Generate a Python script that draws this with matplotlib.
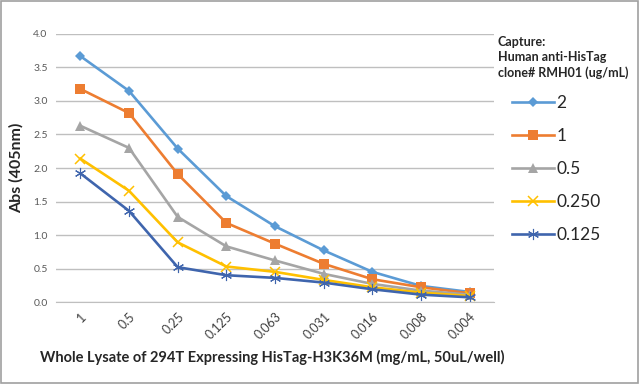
import matplotlib
matplotlib.use("Agg")
import matplotlib.pyplot as plt
from matplotlib.patches import Rectangle
from matplotlib.transforms import ScaledTranslation

plt.rcParams["font.family"] = ["Lato", "DejaVu Sans"]

lysate = ["1", "0.5", "0.25", "0.125", "0.063", "0.031", "0.016", "0.008", "0.004"]
capture = ["2", "1", "0.5", "0.250", "0.125"]
abs_2 = [3.67, 3.15, 2.29, 1.58, 1.13, 0.77, 0.45, 0.24, 0.15]
abs_1 = [3.18, 2.82, 1.91, 1.18, 0.87, 0.57, 0.34, 0.22, 0.13]
abs_05 = [2.63, 2.30, 1.27, 0.83, 0.62, 0.42, 0.27, 0.17, 0.11]
abs_0250 = [2.14, 1.66, 0.89, 0.53, 0.45, 0.33, 0.22, 0.14, 0.09]
abs_0125 = [1.92, 1.36, 0.52, 0.40, 0.36, 0.29, 0.19, 0.11, 0.07]

series = [abs_2, abs_1, abs_05, abs_0250, abs_0125]
colors = ["#5B9BD5", "#ED7D31", "#A5A5A5", "#FFC000", "#3F65AD"]
markers = ["D", "s", "^", "x", (6, 2, 0)]
msizes = [5, 6.5, 6.5, 7, 8]
mews = [0, 0, 0, 1.1, 0.8]

fig = plt.figure(figsize=(6.4, 3.84), dpi=100)
ax = fig.add_axes([0.0875, 0.2135, 0.6845, 0.698])

x = range(len(lysate))
for vals, lab, c, m, ms, mw in zip(series, capture, colors, markers, msizes, mews):
    ax.plot(x, vals, color=c, lw=1.9, marker=m, ms=ms, mew=mw, mec=c, mfc=c, label=lab)

ax.set_xlim(-0.5, len(lysate) - 0.5)
ax.set_ylim(0, 4.0)
ax.set_yticks([0, 0.5, 1.0, 1.5, 2.0, 2.5, 3.0, 3.5, 4.0])
ax.set_yticklabels([f"{v:.1f}" for v in ax.get_yticks()], fontsize=7.5, color="#595959")
ax.set_xticks(list(x))
ax.set_xticklabels(lysate, fontsize=9, color="#404040", rotation=45,
                   ha="right", rotation_mode="anchor")
off = ScaledTranslation(9 / 100, -5 / 100, fig.dpi_scale_trans)
for t in ax.get_xticklabels():
    t.set_transform(t.get_transform() + off)
ax.tick_params(length=0, pad=6)
ax.grid(axis="y", color="#BFBFBF", lw=1)
ax.set_axisbelow(True)
for s in ("top", "right", "left"):
    ax.spines[s].set_visible(False)
ax.spines["bottom"].set_color("#BFBFBF")

ax.set_ylabel("Abs (405nm)", fontsize=11.5, fontweight="bold", color="#262626", labelpad=7)
fig.text(0.425, 0.07, "Whole Lysate of 294T Expressing HisTag-H3K36M (mg/mL, 50uL/well)",
         ha="center", va="center", fontsize=10.5, fontweight="bold", color="#262626")

fig.text(0.778, 0.905, "Capture:\nHuman anti-HisTag\nclone# RMH01 (ug/mL)", ha="left", va="top",
         fontsize=9, fontweight="bold", color="#262626", linespacing=1.3)
leg = fig.legend(loc="upper left", bbox_to_anchor=(0.80, 0.752), frameon=False,
                 fontsize=12.5, handlelength=2.4, handletextpad=0.15, labelspacing=0.98,
                 borderaxespad=0, borderpad=0)
for t in leg.get_texts():
    t.set_color("#262626")

fig.patches.append(Rectangle((0.002, 0.003), 0.995, 0.994, transform=fig.transFigure,
                             fill=False, ec="#A0A0A0", lw=1.2))

fig.savefig("out.png", dpi=100)
